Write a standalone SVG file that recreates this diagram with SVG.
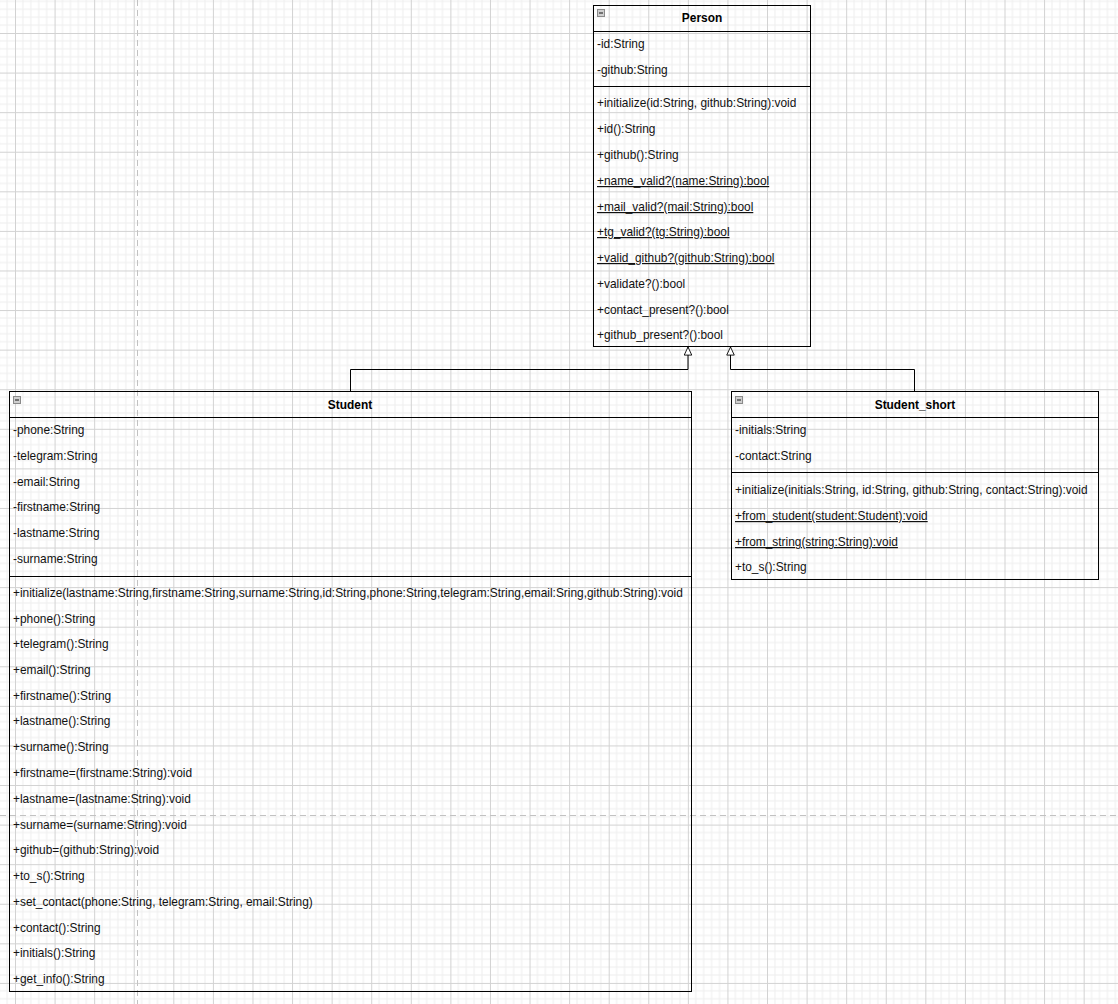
<svg xmlns="http://www.w3.org/2000/svg" width="1118" height="1004" viewBox="0 0 1118 1004">
  <style>
    .box { fill: none; stroke: #000000; stroke-width: 1; }
    .sep { stroke: #000000; stroke-width: 1; }
    .title { font-family: "Liberation Sans", Arial, sans-serif; font-size: 11.9px; font-weight: bold; fill: #000000; text-anchor: middle; }
    .row { font-family: "Liberation Sans", Arial, sans-serif; font-size: 11.9px; fill: #111111; }
    .static { text-decoration: underline; }
    .edge { fill: none; stroke: #000000; stroke-width: 1; }
    .page { stroke: #c2c2c2; stroke-width: 1; stroke-dasharray: 6 4; }
    .fold rect { fill: #cfcfcf; stroke: #8a8a8a; stroke-width: 1; }
    .fold line { stroke: #333333; stroke-width: 1.2; }
  </style>
  <defs>
    <!-- editor grid: minor lines every 1/5 of a major cell -->
    <pattern id="grid" patternUnits="userSpaceOnUse" x="15" y="33" width="39.58" height="39.58">
      <path d="M7.92 0V39.58M15.83 0V39.58M23.75 0V39.58M31.66 0V39.58M0 7.92H39.58M0 15.83H39.58M0 23.75H39.58M0 31.66H39.58" stroke="#eeeeee" stroke-width="1" fill="none"/>
      <path d="M0.5 0V39.58M0 0.5H39.58" stroke="#d2d2d2" stroke-width="1" fill="none"/>
    </pattern>
    <!-- hollow triangle for generalization -->
    <marker id="inherit" markerUnits="userSpaceOnUse" viewBox="0 0 10 10" refX="9.5" refY="5" markerWidth="10" markerHeight="9" orient="auto">
      <path d="M0.5 0.8 L9.5 5 L0.5 9.2 Z" fill="#ffffff" stroke="#000000" stroke-width="1"/>
    </marker>
    <g id="foldIcon" class="fold">
      <rect x="0.5" y="0.5" width="7" height="7"/>
      <line x1="2" y1="4" x2="6" y2="4"/>
    </g>
  </defs>

  <rect width="1118" height="1004" fill="#ffffff"/>
  <rect width="1118" height="1004" fill="url(#grid)"/>
  <line class="page" x1="137.5" y1="0" x2="137.5" y2="1004"/>
  <line class="page" x1="0" y1="815.5" x2="1118" y2="815.5"/>

  <g id="connectors">
    <path class="edge" d="M350.5 391.5 V369.5 H688 V347" marker-end="url(#inherit)"/>
    <path class="edge" d="M914.5 391.5 V369.5 H730.5 V347" marker-end="url(#inherit)"/>
  </g>

  <g id="person">
    <rect class="box" x="593.5" y="5.5" width="217" height="341"/>
    <line class="sep" x1="593.5" y1="31.5" x2="810.5" y2="31.5"/>
    <line class="sep" x1="593.5" y1="86.5" x2="810.5" y2="86.5"/>
    <use href="#foldIcon" x="597" y="9"/>
    <text class="title" x="702" y="22">Person</text>
    <text class="row" x="597" y="48">-id:String</text>
    <text class="row" x="597" y="74">-github:String</text>
    <text class="row" x="597" y="107">+initialize(id:String, github:String):void</text>
    <text class="row" x="597" y="133">+id():String</text>
    <text class="row" x="597" y="159">+github():String</text>
    <text class="row static" x="597" y="185">+name_valid?(name:String):bool</text>
    <text class="row static" x="597" y="211">+mail_valid?(mail:String):bool</text>
    <text class="row static" x="597" y="236">+tg_valid?(tg:String):bool</text>
    <text class="row static" x="597" y="262">+valid_github?(github:String):bool</text>
    <text class="row" x="597" y="288">+validate?():bool</text>
    <text class="row" x="597" y="314">+contact_present?():bool</text>
    <text class="row" x="597" y="339">+github_present?():bool</text>
  </g>

  <g id="student">
    <rect class="box" x="9.5" y="391.5" width="682" height="600"/>
    <line class="sep" x1="9.5" y1="417.5" x2="691.5" y2="417.5"/>
    <line class="sep" x1="9.5" y1="576.5" x2="691.5" y2="576.5"/>
    <use href="#foldIcon" x="13" y="396"/>
    <text class="title" x="350" y="409">Student</text>
    <text class="row" x="13" y="434">-phone:String</text>
    <text class="row" x="13" y="460">-telegram:String</text>
    <text class="row" x="13" y="486">-email:String</text>
    <text class="row" x="13" y="511">-firstname:String</text>
    <text class="row" x="13" y="537">-lastname:String</text>
    <text class="row" x="13" y="563">-surname:String</text>
    <text class="row" x="13" y="597">+initialize(lastname:String,firstname:String,surname:String,id:String,phone:String,telegram:String,email:Sring,github:String):void</text>
    <text class="row" x="13" y="623">+phone():String</text>
    <text class="row" x="13" y="648">+telegram():String</text>
    <text class="row" x="13" y="674">+email():String</text>
    <text class="row" x="13" y="700">+firstname():String</text>
    <text class="row" x="13" y="725">+lastname():String</text>
    <text class="row" x="13" y="751">+surname():String</text>
    <text class="row" x="13" y="777">+firstname=(firstname:String):void</text>
    <text class="row" x="13" y="803">+lastname=(lastname:String):void</text>
    <text class="row" x="13" y="829">+surname=(surname:String):void</text>
    <text class="row" x="13" y="854">+github=(github:String):void</text>
    <text class="row" x="13" y="880">+to_s():String</text>
    <text class="row" x="13" y="906">+set_contact(phone:String, telegram:String, email:String)</text>
    <text class="row" x="13" y="932">+contact():String</text>
    <text class="row" x="13" y="957">+initials():String</text>
    <text class="row" x="13" y="983">+get_info():String</text>
  </g>

  <g id="student_short">
    <rect class="box" x="731.5" y="391.5" width="367" height="188"/>
    <line class="sep" x1="731.5" y1="417.5" x2="1098.5" y2="417.5"/>
    <line class="sep" x1="731.5" y1="472.5" x2="1098.5" y2="472.5"/>
    <use href="#foldIcon" x="735" y="396"/>
    <text class="title" x="915" y="409">Student_short</text>
    <text class="row" x="735" y="434">-initials:String</text>
    <text class="row" x="735" y="460">-contact:String</text>
    <text class="row" x="735" y="494">+initialize(initials:String, id:String, github:String, contact:String):void</text>
    <text class="row static" x="735" y="520">+from_student(student:Student):void</text>
    <text class="row static" x="735" y="546">+from_string(string:String):void</text>
    <text class="row" x="735" y="571">+to_s():String</text>
  </g>
</svg>
